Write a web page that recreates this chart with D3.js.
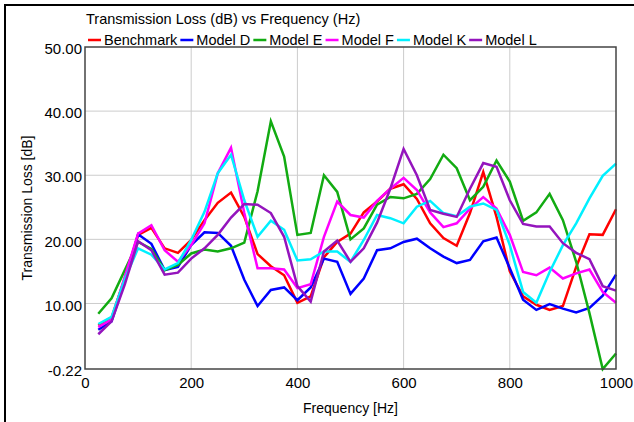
<!DOCTYPE html>
<html>
<head>
<meta charset="utf-8">
<script src="https://cdn.jsdelivr.net/npm/d3@7"></script>
<style>
  body { margin: 0; background: #fff; }
  text { font-family: "Liberation Sans", Arial, sans-serif; fill: #000; }
</style>
</head>
<body>
<div id="chart"></div>
<script>
// Frequencies (Hz)
var freq = [25, 50, 75, 100, 125, 150, 175, 200, 225, 250, 275, 300, 325, 350, 375, 400,
  425, 450, 475, 500, 525, 550, 575, 600, 625, 650, 675, 700, 725, 750, 775, 800,
  825, 850, 875, 900, 925, 950, 975, 1000];

// Transmission loss (dB) per model
var benchmark = [6.6, 7.8, 14.0, 20.7, 21.8, 18.6, 17.9, 19.9, 23.0, 25.7, 27.3, 23.5, 17.7, 15.8, 14.4, 10.1,
  11.1, 17.2, 19.6, 20.9, 24.2, 25.9, 27.9, 28.6, 26.3, 22.5, 20.2, 19.0, 24.1, 30.5, 23.5, 15.0,
  11.1, 9.8, 9.0, 9.6, 15.7, 20.8, 20.7, 24.7];
var modelD = [5.9, 7.2, 13.5, 20.8, 19.3, 15.2, 15.7, 19.1, 21.1, 21.0, 19.0, 13.7, 9.6, 12.1, 12.5, 10.5,
  12.5, 17.0, 16.5, 11.5, 13.9, 18.3, 18.6, 19.6, 20.1, 18.6, 17.3, 16.3, 16.8, 19.7, 20.3, 15.5,
  10.6, 9.0, 9.9, 9.2, 8.6, 9.3, 11.2, 14.5];
var modelE = [8.4, 10.8, 15.2, 19.6, 18.5, 15.2, 16.0, 17.8, 18.4, 18.1, 18.6, 19.5, 27.5, 38.4, 32.9, 20.7,
  21.0, 30.0, 27.4, 20.0, 21.7, 25.4, 26.6, 26.4, 27.1, 29.4, 33.2, 31.1, 26.1, 28.2, 32.3, 29.0,
  22.9, 24.2, 27.1, 23.0, 16.5, 8.5, -0.22, 2.2];
var modelF = [6.3, 7.5, 14.2, 20.9, 22.2, 18.3, 16.5, 19.1, 22.5, 30.3, 34.3, 24.1, 15.5, 15.5, 15.3, 12.4,
  13.0, 20.4, 25.9, 23.8, 23.4, 26.0, 27.9, 29.6, 27.7, 24.2, 21.9, 22.5, 24.8, 26.6, 24.8, 20.7,
  14.9, 14.4, 15.6, 13.9, 14.7, 15.3, 11.8, 10.1];
var modelK = [6.8, 7.9, 13.8, 18.6, 17.6, 15.3, 16.3, 19.9, 24.3, 30.3, 33.2, 26.1, 20.4, 22.9, 21.5, 16.7,
  16.9, 18.1, 18.1, 16.5, 19.9, 23.8, 23.3, 22.5, 25.1, 26.0, 24.1, 23.6, 25.1, 25.6, 24.6, 19.1,
  11.8, 10.1, 14.9, 19.1, 22.5, 26.4, 29.9, 31.8];
var modelL = [5.2, 7.2, 13.0, 19.7, 18.3, 14.5, 14.8, 17.0, 18.6, 20.7, 23.4, 25.5, 25.4, 24.1, 20.4, 12.7,
  10.3, 18.1, 19.8, 16.5, 18.6, 22.6, 27.9, 34.1, 30.0, 24.6, 24.0, 23.5, 27.9, 31.9, 31.3, 26.1,
  22.4, 22.0, 22.0, 19.4, 17.9, 16.9, 12.7, 12.0];

var seriesNames = ["Benchmark", "Model D", "Model E", "Model F", "Model K", "Model L"];
var seriesColors = ["#ff0000", "#0000ff", "#12ab12", "#ff00ff", "#00f0ff", "#9414bd"];
var seriesValues = [benchmark, modelD, modelE, modelF, modelK, modelL];

var xTicks = [0, 200, 400, 600, 800, 1000];
var yTicks = [-0.22, 10, 20, 30, 40, 50];

// SVG area
var svgWidth = 634;
var svgHeight = 422;

var margin = { top: 47, right: 18, bottom: 53, left: 85 };
var chartWidth = svgWidth - margin.left - margin.right;
var chartHeight = svgHeight - margin.top - margin.bottom;

var svg = d3.select("#chart")
  .append("svg")
  .attr("width", svgWidth)
  .attr("height", svgHeight);

// outer frame
svg.append("rect")
  .attr("x", 5)
  .attr("y", 5)
  .attr("width", 700)
  .attr("height", 500)
  .attr("fill", "none")
  .attr("stroke", "#000")
  .attr("stroke-width", 2);

var chartGroup = svg.append("g")
  .attr("transform", `translate(${margin.left}, ${margin.top})`);

var xLinearScale = d3.scaleLinear()
  .domain([0, 1000])
  .range([0, chartWidth]);

var yLinearScale = d3.scaleLinear()
  .domain([-0.22, 50])
  .range([chartHeight, 0]);

// grid lines
chartGroup.append("g")
  .selectAll("line")
  .data(xTicks.slice(1, -1))
  .enter()
  .append("line")
  .attr("x1", d => xLinearScale(d))
  .attr("x2", d => xLinearScale(d))
  .attr("y1", 0)
  .attr("y2", chartHeight)
  .attr("stroke", "#cccccc")
  .attr("stroke-width", 1);

chartGroup.append("g")
  .selectAll("line")
  .data(yTicks.slice(1, -1))
  .enter()
  .append("line")
  .attr("x1", 0)
  .attr("x2", chartWidth)
  .attr("y1", d => yLinearScale(d))
  .attr("y2", d => yLinearScale(d))
  .attr("stroke", "#cccccc")
  .attr("stroke-width", 1);

// axes
var bottomAxis = d3.axisBottom(xLinearScale)
  .tickValues(xTicks)
  .tickSize(0)
  .tickPadding(6)
  .tickFormat(d => String(d));

var leftAxis = d3.axisLeft(yLinearScale)
  .tickValues(yTicks)
  .tickSize(0)
  .tickPadding(3)
  .tickFormat(d => d.toFixed(2));

var xAxis = chartGroup.append("g")
  .attr("transform", `translate(0, ${chartHeight})`)
  .call(bottomAxis);

var yAxis = chartGroup.append("g")
  .call(leftAxis);

[xAxis, yAxis].forEach(function(ax) {
  ax.select(".domain").remove();
  ax.selectAll("text")
    .attr("font-size", 15)
    .attr("font-family", "Liberation Sans, Arial, sans-serif")
    .attr("fill", "#000");
});
yAxis.selectAll("text").attr("dy", "0.45em");
xAxis.selectAll("text").attr("dy", "0.85em");

// lines
var line = d3.line()
  .x((d, i) => xLinearScale(freq[i]))
  .y(d => yLinearScale(d));

chartGroup.append("g")
  .selectAll("path")
  .data(seriesValues)
  .enter()
  .append("path")
  .attr("d", d => line(d))
  .attr("fill", "none")
  .attr("stroke", (d, i) => seriesColors[i])
  .attr("stroke-width", 2.5)
  .attr("stroke-linejoin", "miter");

// plot border
chartGroup.append("rect")
  .attr("x", 0)
  .attr("y", 0)
  .attr("width", chartWidth)
  .attr("height", chartHeight)
  .attr("fill", "none")
  .attr("stroke", "#444")
  .attr("stroke-width", 1.5);

// title
svg.append("text")
  .attr("x", 86)
  .attr("y", 24)
  .attr("font-size", 14.5)
  .text("Transmission Loss (dB) vs Frequency (Hz)");

// legend
var legend = svg.append("g")
  .attr("transform", "translate(88, 40)");
var legX = 0;
seriesNames.forEach(function(name, i) {
  legend.append("line")
    .attr("x1", legX)
    .attr("x2", legX + 13)
    .attr("y1", 0)
    .attr("y2", 0)
    .attr("stroke", seriesColors[i])
    .attr("stroke-width", 2.5);
  var t = legend.append("text")
    .attr("x", legX + 16)
    .attr("y", 0)
    .attr("dy", "0.36em")
    .attr("font-size", 14.5)
    .text(name);
  legX += 16 + t.node().getComputedTextLength() + 3;
});

// axis titles
svg.append("text")
  .attr("x", margin.left + chartWidth / 2)
  .attr("y", 413)
  .attr("text-anchor", "middle")
  .attr("font-size", 14)
  .text("Frequency [Hz]");

svg.append("text")
  .attr("transform", `translate(32, ${margin.top + chartHeight / 2}) rotate(-90)`)
  .attr("text-anchor", "middle")
  .attr("font-size", 14)
  .text("Transmission Loss [dB]");
</script>
</body>
</html>
